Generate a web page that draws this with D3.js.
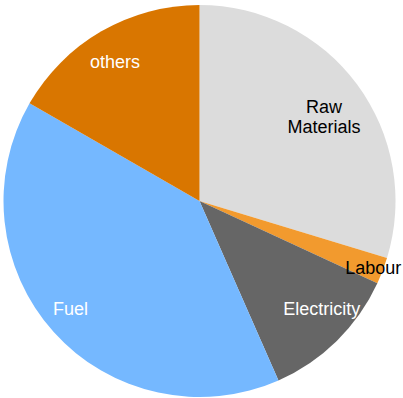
<!DOCTYPE html>
<html>
<head>
<meta charset="utf-8">
<script src="https://cdn.jsdelivr.net/npm/d3@7"></script>
<style>
  html, body { margin: 0; padding: 0; background: #ffffff; }
  svg { display: block; }
</style>
</head>
<body>
<svg id="chart" width="403" height="398"></svg>
<script>
// Cost breakdown (percent of total)
const categories = ["Raw Materials", "Labour", "Electricity", "Fuel", "others"];
const shares = [29.7, 2.2, 11.5, 39.9, 16.7];

// Slice styling
const sliceColors = ["#dcdcdc", "#f29a2e", "#666666", "#75b8ff", "#d97600"];
const labelColors = ["#000000", "#000000", "#ffffff", "#ffffff", "#ffffff"];
const labelRadiusFactor = [0.765, 0.96, 0.84, 0.85, 0.83];
// Fine adjustment of label anchors, in px
const labelNudge = [[4, 5], [-2, 0], [7, -10], [-5, -4], [-3, 1]];

const width = 403, height = 398;
const cx = 199.5, cy = 201, radius = 196;

const svg = d3.select("#chart");
const g = svg.append("g").attr("transform", `translate(${cx},${cy})`);

const data = categories.map((name, i) => ({ name, value: shares[i], i }));

const pie = d3.pie()
  .value(d => d.value)
  .sort(null)
  .startAngle(0)
  .endAngle(2 * Math.PI);

const arcs = pie(data);

const arc = d3.arc().innerRadius(0).outerRadius(radius);

g.selectAll("path.slice")
  .data(arcs)
  .join("path")
  .attr("class", "slice")
  .attr("d", arc)
  .attr("fill", d => sliceColors[d.data.i]);

// Labels placed along each slice's mid-angle
g.selectAll("text.label")
  .data(arcs)
  .join("text")
  .attr("class", "label")
  .each(function (d) {
    const r = radius * labelRadiusFactor[d.data.i];
    const la = d3.arc().innerRadius(r).outerRadius(r);
    const c = la.centroid(d);
    const x = c[0] + labelNudge[d.data.i][0];
    const y = c[1] + labelNudge[d.data.i][1];
    const lines = d.data.name.split(" ");
    const lh = 20;
    const t = d3.select(this)
      .attr("text-anchor", "middle")
      .attr("font-family", "'Liberation Sans', Arial, sans-serif")
      .attr("font-size", 18)
      .attr("fill", labelColors[d.data.i]);
    lines.forEach((ln, k) => {
      t.append("tspan")
        .attr("x", x)
        .attr("y", y + (k - (lines.length - 1) / 2) * lh)
        .attr("dy", "0.35em")
        .text(ln);
    });
  });
</script>
</body>
</html>
